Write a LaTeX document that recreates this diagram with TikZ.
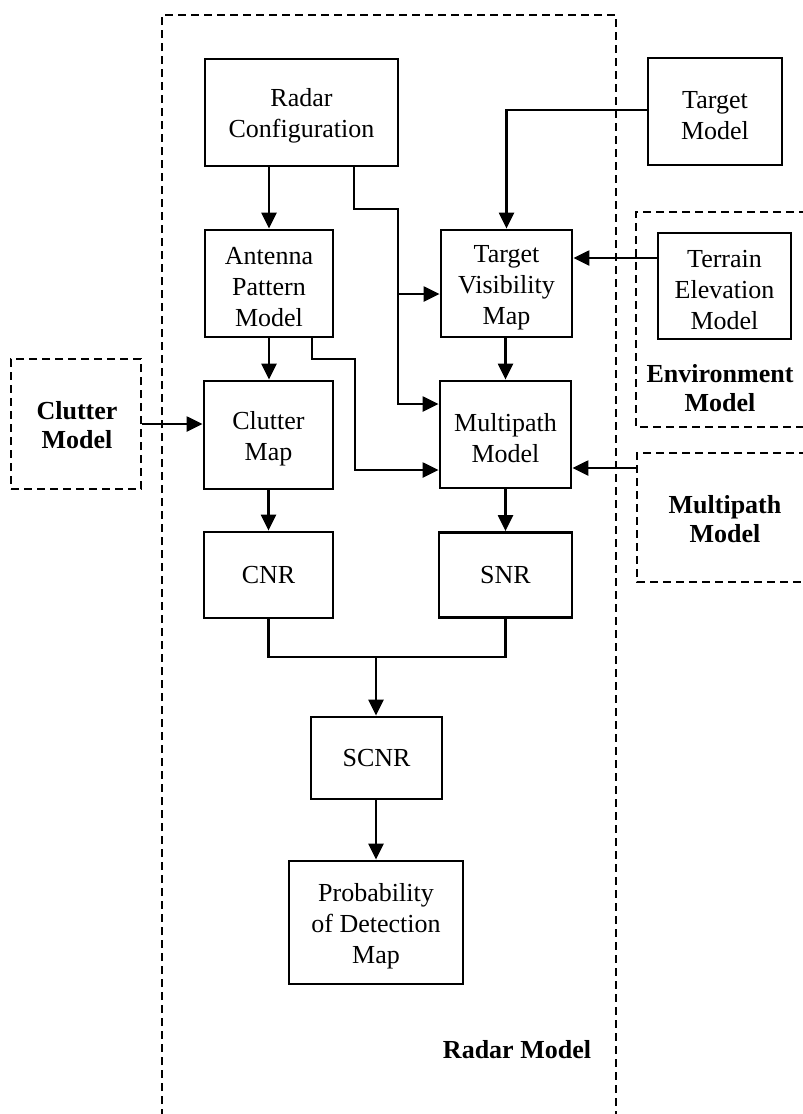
\documentclass[tikz,border=0pt]{standalone}
\usepackage{fontspec}
\setmainfont{Liberation Serif}
\usetikzlibrary{arrows.meta}
% extra head room on the first line of a multi-line block label
\newcommand\toppad{\rule{0pt}{25pt}}
\begin{document}
\begin{tikzpicture}[x=1pt,y=-1pt,
  every node/.style={font=\fontsize{26}{31}\selectfont},
  blk/.style={draw, line width=2.8pt, align=center, inner sep=0pt},
  dbox/.style={draw, line width=2.3pt, dash pattern=on 8pt off 5pt},
  lbl/.style={align=center, font=\fontsize{26}{29}\selectfont\bfseries},
  conn/.style={line width=2.3pt},
  arr/.style={conn, -{Triangle[length=16pt,width=15pt]}}]
\useasboundingbox (0,0) rectangle (803,1114);
\clip (0,0) rectangle (803,1114);
\fill[white] (0,0) rectangle (803,1114);

% enclosing groups
\draw[dbox] (162,1130) -- (162,15) -- (616,15) -- (616,1130);
\draw[dbox] (820,212) -- (636,212) -- (636,427) -- (820,427);
\draw[dbox] (820,453) -- (637,453) -- (637,582) -- (820,582);
\node[dbox, minimum width=130pt, minimum height=130pt] (cmod) at (76,424) {};
\node[lbl] (cmodl) at (77,425) {Clutter\\Model};
\node[lbl] (envl) at (720,388) {Environment\\Model};
\node[lbl] (mpml) at (725,519) {Multipath\\Model};
\node[lbl] (radl) at (517,1050) {Radar Model};

% processing blocks
\node[blk, minimum width=193pt, minimum height=107pt] (rc) at (301.5,112.5) {\toppad Radar\\Configuration};
\node[blk, minimum width=134pt, minimum height=107pt] (tm) at (715,111.5) {\toppad Target\\Model};
\node[blk, minimum width=128pt, minimum height=107pt] (ap) at (269,283.5) {\toppad Antenna\\Pattern\\Model};
\node[blk, minimum width=131pt, minimum height=107pt] (tv) at (506.5,283.5) {\toppad Target\\Visibility\\Map};
\node[blk, minimum width=133pt, minimum height=106pt] (te) at (724.5,286) {\toppad Terrain\\Elevation\\Model};
\node[blk, minimum width=129pt, minimum height=108pt] (cm) at (268.5,435) {\toppad Clutter\\Map};
\node[blk, minimum width=131pt, minimum height=107pt] (mp) at (505.5,434.5) {\toppad Multipath\\Model};
\node[blk, minimum width=129pt, minimum height=86pt] (cnr) at (268.5,575) {CNR};
\node[blk, minimum width=133pt, minimum height=85pt] (snr) at (505.5,575) {SNR};
\node[blk, minimum width=131pt, minimum height=82pt] (scnr) at (376.5,758) {SCNR};
\node[blk, minimum width=174pt, minimum height=123pt] (pod) at (376,922.5) {\toppad Probability\\of Detection\\Map};

% bend points and port offsets
\coordinate (b1) at (398,209);
\coordinate (b2) at (355,359);
\coordinate (tvin) at ([yshift=-10.5pt]tv.west);
\coordinate (mpin1) at ([yshift=30.5pt]mp.west);
\coordinate (mpin2) at ([yshift=-35.5pt]mp.west);
\coordinate (teout) at ([yshift=28pt]te.west);
\coordinate (mpmout) at (637,468);
\coordinate (mrg) at (376,657);

% connectors
\draw[arr] (rc.south -| ap.north) -- (ap.north);
\draw[arr] ([xshift=52.5pt]rc.south) |- (b1) |- (mpin1);
\draw[arr] (b1 |- tvin) -- (tvin);
\draw[arr] ([xshift=43pt]ap.south) |- (b2) |- (mpin2);
\draw[arr] ([yshift=1.5pt]tm.west) -| (tv.north);
\draw[arr] (teout) -- (teout -| tv.east);
\draw[arr] (ap.south) -- (ap.south |- cm.north);
\draw[arr] (cmod.east) -- (cmod.east -| cm.west);
\draw[arr] (mpmout) -- (mpmout -| mp.east);
\draw[arr] (tv.south -| mp.north) -- (mp.north);
\draw[arr] (cm.south) -- (cnr.north);
\draw[arr] (mp.south) -- (snr.north);
\draw[conn] (cnr.south) |- (mrg) -| (snr.south);
\draw[arr] (mrg) -- (mrg |- scnr.north);
\draw[arr] (scnr.south -| pod.north) -- (pod.north);
\end{tikzpicture}
\end{document}
